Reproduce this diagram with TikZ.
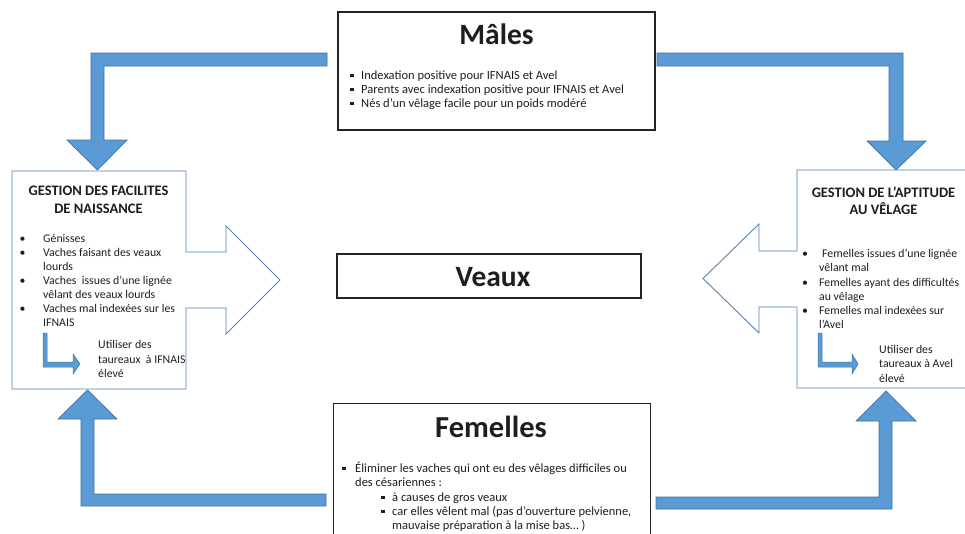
\documentclass[tikz,border=0pt]{standalone}
\usepackage{fontspec}
\setmainfont{Carlito}
\definecolor{arrowfill}{RGB}{91,155,213}
\definecolor{arrowdraw}{RGB}{65,113,156}
\definecolor{boxblue}{RGB}{84,130,185}
\definecolor{darkline}{RGB}{35,35,35}
\definecolor{txtcol}{RGB}{30,30,30}
\newcommand\sqbul{\rule[0.18em]{0.3em}{0.3em}}
\tikzset{
  blk/.style={fill=arrowfill, draw=arrowdraw, line width=0.7pt, line join=miter},
  bluebox/.style={draw=boxblue, line width=0.9pt, fill=white, line join=miter},
  darkbox/.style={draw=darkline, line width=1.1pt, fill=white, inner sep=0},
  txt/.style={inner sep=0, anchor=west, text height=0.7em, text depth=0.2em, text=txtcol, yshift=-2pt},
  ctxt/.style={inner sep=0, anchor=center, text height=0.7em, text depth=0.2em, text=txtcol},
  bigtitle/.style={ctxt, font=\fontsize{29.5}{31}\selectfont\bfseries, yshift=-7pt},
  boxtitle/.style={ctxt, font=\fontsize{14.5}{16}\selectfont\bfseries, yshift=-3pt},
  body/.style={txt, font=\fontsize{11.8}{14}\selectfont},
  mbody/.style={txt, font=\fontsize{12.5}{14}\selectfont},
}
\begin{document}
\begin{tikzpicture}[x=1pt,y=-1pt]
\useasboundingbox (0,0) rectangle (965,533);
\clip (0,0) rectangle (965,533);
\fill[white] (0,0) rectangle (965,533);

% ---- big block arrows ----
\draw[blk] (327,53) -- (91,53) -- (91,140) -- (67,140) -- (97.5,170) -- (127,140) -- (104,140) -- (104,66) -- (327,66) -- cycle;
\draw[blk] (657,53) -- (903,53) -- (903,141) -- (926,141) -- (896,170) -- (867,141) -- (889,141) -- (889,66) -- (657,66) -- cycle;
\draw[blk] (326,494) -- (94,494) -- (94,419) -- (117,419) -- (87.5,390) -- (58,419) -- (81,419) -- (81,506) -- (326,506) -- cycle;
\draw[blk] (656,497) -- (879,497) -- (879,421) -- (856,421) -- (886,391) -- (916,421) -- (892,421) -- (892,509) -- (656,509) -- cycle;

% ---- left box with outgoing arrow ----
\draw[bluebox] (12,171) -- (186,171) -- (186,252) -- (226,252) -- (226,226) -- (280,280) -- (226,334) -- (226,308) -- (186,308) -- (186,389) -- (12,389) -- cycle;
\node[boxtitle] (lt1) at (98.5,190) {GESTION DES FACILITES};
\node[boxtitle] (lt2) at (98.5,208) {DE NAISSANCE};
\foreach \yy/\tt [count=\i] in {238/Génisses, 252/Vaches faisant des veaux, 266/lourds, 280/Vaches\ \ issues d’une lignée, 294/vêlant des veaux lourds, 308/Vaches mal indexées sur les, 322/IFNAIS}{
  \node[body] (lb\i) at (43,\yy) {\tt};
}
\foreach \yy/\i in {238/a,252/b,280/c,308/d}{
  \node[body] (lbul\i) at (19.5,\yy) {•};
}
\draw[blk, line width=0.5pt] (43,333) -- (47,333) -- (47,362) -- (73,362) -- (73,354) -- (80,364) -- (73,374) -- (73,367) -- (43,367) -- cycle;
\node[body] (lu1) at (98,344) {Utiliser des};
\node[body] (lu2) at (98,359) {taureaux\ \ à IFNAIS};
\node[body] (lu3) at (98,373) {élevé};

% ---- right box with outgoing arrow ----
\draw[bluebox] (968,170) -- (797,170) -- (797,251) -- (759,251) -- (759,224) -- (703,278.5) -- (759,333) -- (759,307) -- (797,307) -- (797,388) -- (968,388);
\node[boxtitle] (rt1) at (883.5,192) {GESTION DE L’APTITUDE};
\node[boxtitle] (rt2) at (883.5,209) {AU VÊLAGE};
\node[body] (rb1) at (822,253) {Femelles issues d’une lignée};
\node[body] (rb2) at (819,267) {vêlant mal};
\node[body] (rb3) at (819,282) {Femelles ayant des difficultés};
\node[body] (rb4) at (819,296) {au vêlage};
\node[body] (rb5) at (819,310) {Femelles mal indexées sur};
\node[body] (rb6) at (819,324) {l’Avel};
\foreach \yy/\i in {253/a,282/b,310/c}{
  \node[body] (rbul\i) at (802,\yy) {•};
}
\draw[blk, line width=0.5pt] (818,333) -- (822,333) -- (822,362) -- (852,362) -- (852,354) -- (858,364) -- (852,374) -- (852,367) -- (818,367) -- cycle;
\node[body] (ru1) at (879,349) {Utiliser des};
\node[body] (ru2) at (879,363) {taureaux à Avel};
\node[body] (ru3) at (879,378) {élevé};

% ---- Mâles ----
\node[darkbox, minimum width=317pt, minimum height=118pt] (males) at (496.5,71) {};
\node[bigtitle] (malest) at (496.5,35) {Mâles};
\node[mbody] (m1) at (361,75) {Indexation positive pour IFNAIS et Avel};
\node[mbody] (m2) at (361,89) {Parents avec indexation positive pour IFNAIS et Avel};
\node[mbody] (m3) at (361,103) {Nés d’un vêlage facile pour un poids modéré};
\foreach \yy/\i in {75/a,89/b,103/c}{
  \node[mbody] (msq\i) at (350,\yy) {\sqbul};
}

% ---- Veaux ----
\node[darkbox, minimum width=304pt, minimum height=44pt] (veaux) at (489,276) {};
\node[bigtitle] (veauxt) at (493,277) {Veaux};

% ---- Femelles ----
\node[darkbox, minimum width=317pt, minimum height=150pt, anchor=north west] (fem) at (333,403) {};
\node[bigtitle, font=\fontsize{30.5}{32}\selectfont\bfseries, yshift=-1pt] (femt) at (491,427) {Femelles};
\node[mbody] (f1) at (355,468) {Éliminer les vaches qui ont eu des vêlages difficiles ou};
\node[mbody] (f2) at (355,482) {des césariennes :};
\node[mbody] (f3) at (392,497) {à causes de gros veaux};
\node[mbody] (f4) at (392,511) {car elles vêlent mal (pas d’ouverture pelvienne,};
\node[mbody] (f5) at (392,525) {mauvaise préparation à la mise bas… )};
\node[mbody] (fsqa) at (342,468) {\sqbul};
\node[mbody] (fsqb) at (381,497) {\sqbul};
\node[mbody] (fsqc) at (381,511) {\sqbul};
\end{tikzpicture}
\end{document}
